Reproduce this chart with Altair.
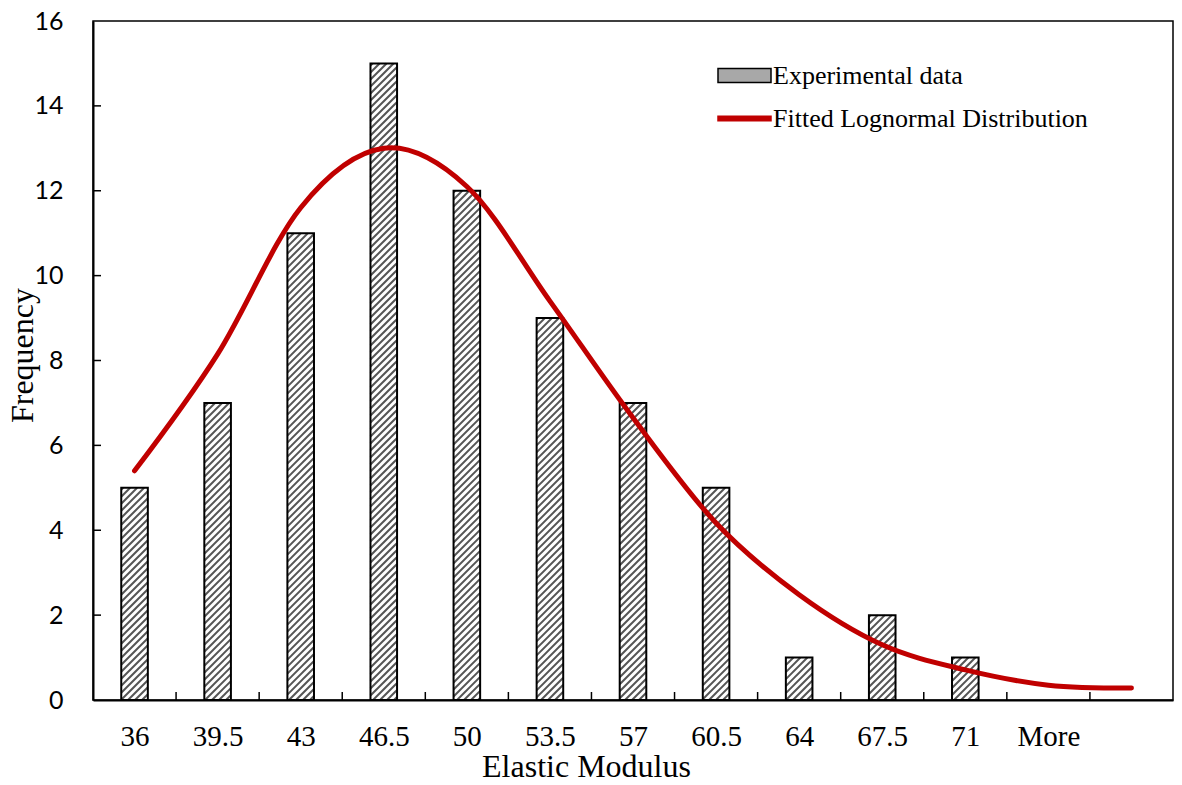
import altair as alt
import pandas as pd

# ---- data ----
categories = ["36", "39.5", "43", "46.5", "50", "53.5", "57", "60.5", "64", "67.5", "71", "More"]
frequency = [5, 7, 11, 15, 12, 9, 7, 5, 1, 2, 1, 0]
fitted = [5.4, 8.15, 11.6, 13.0, 12.1, 9.4, 6.65, 4.17, 2.48, 1.30, 0.71, 0.35, 0.28]
series = ["Experimental data", "Fitted Lognormal Distribution"]
y_ticks = [0, 2, 4, 6, 8, 10, 12, 14, 16]

# ---- layout / style ----
W, H = 1080, 679
N_SLOTS = 13
SX = W / N_SLOTS          # px per category slot
SY = H / 16               # px per frequency unit
HALF = 0.16               # half bar width (slot units)
PERIOD = 7                # hatch period (px)
TICK_PX = 8
RED = "#C00000"
SERIF = "Liberation Serif"

bars = pd.DataFrame({"idx": list(range(len(categories))), "label": categories, "count": frequency})
fit = pd.DataFrame({"idx": list(range(len(fitted))), "value": fitted})
legend_df = pd.DataFrame({"series": series})
xticks_df = pd.DataFrame({"b": list(range(1, N_SLOTS))})
yticks_df = pd.DataFrame({"v": y_ticks[1:-1]})

x_scale = alt.Scale(domain=[0, N_SLOTS], nice=False, zero=False)
y_scale = alt.Scale(domain=[0, 16], nice=False)

label_expr = "[" + ",".join("'%s'" % c for c in categories) + "][floor(datum.value)]"
x_axis = alt.Axis(
    values=[i + 0.5 for i in range(len(categories))], labelExpr=label_expr,
    ticks=False, tickSize=0, grid=False, domainColor="black", domainWidth=2,
    labelFont=SERIF, labelFontSize=29, labelColor="black", labelPadding=22,
    labelFlush=False, labelOverlap=False,
    title="Elastic Modulus", titleFont=SERIF, titleFontSize=32, titleFontWeight="normal",
    titleColor="black", titleX=493, titleY=76, titleBaseline="alphabetic", titleAlign="center",
)
y_axis = alt.Axis(
    values=y_ticks, ticks=False, tickSize=0, grid=False, domainColor="black", domainWidth=2,
    labelFont="Lato", labelFontSize=25, labelColor="black", labelPadding=30,
    labelFlush=False, labelOverlap=False,
    title="Frequency", titleFont=SERIF, titleFontSize=32, titleFontWeight="normal",
    titleColor="black", titleX=-61, titleY=334, titleAngle=270,
    titleBaseline="alphabetic", titleAlign="center",
)


def X(field):
    return alt.X(field, type="quantitative", scale=x_scale, axis=x_axis)


def Y(field):
    return alt.Y(field, type="quantitative", scale=y_scale, axis=y_axis)


bar_base = alt.Chart(bars).transform_filter("datum.count > 0").transform_calculate(
    xa="datum.idx + 0.5 - %f" % HALF,
    xb="datum.idx + 0.5 + %f" % HALF,
    zero="0",
)

bar_fill = bar_base.mark_rect(fill="white").encode(
    x=X("xa"), x2="xb", y=Y("count"), y2="zero"
)

hatch = (
    alt.Chart(bars)
    .transform_filter("datum.count > 0")
    .transform_calculate(
        P0="(datum.idx + 0.5 - %f) * %f" % (HALF, SX),
        P1="(datum.idx + 0.5 + %f) * %f" % (HALF, SX),
        QT="datum.count * %f" % SY,
    )
    .transform_calculate(
        ks="sequence(floor((datum.P0 - datum.QT) / %f), ceil(datum.P1 / %f) + 1)" % (PERIOD, PERIOD)
    )
    .transform_flatten(["ks"], as_=["k"])
    .transform_calculate(s="datum.k * %f" % PERIOD)
    .transform_calculate(
        Qa="max(0, datum.P0 - datum.s)",
        Qb="min(datum.QT, datum.P1 - datum.s)",
    )
    .transform_filter("datum.Qb - datum.Qa > 0.3")
    .transform_calculate(
        hx="(datum.Qa + datum.s) / %f" % SX,
        hx2="(datum.Qb + datum.s) / %f" % SX,
        hy="datum.Qa / %f" % SY,
        hy2="datum.Qb / %f" % SY,
    )
    .mark_rule(color="#555555", strokeWidth=2)
    .encode(x=X("hx"), x2="hx2", y=Y("hy"), y2="hy2")
)

bar_outline = bar_base.mark_rect(fill="transparent", stroke="black", strokeWidth=2).encode(
    x=X("xa"), x2="xb", y=Y("count"), y2="zero"
)

fit_line = (
    alt.Chart(fit)
    .transform_calculate(xc="datum.idx + 0.5")
    .mark_line(color=RED, strokeWidth=5, strokeCap="round", interpolate="cardinal")
    .encode(x=X("xc"), y=Y("value"))
)

x_ticks = (
    alt.Chart(xticks_df)
    .transform_calculate(z="0", t="%f" % (TICK_PX / SY))
    .mark_rule(color="black", strokeWidth=1.5)
    .encode(x=X("b"), y=Y("z"), y2="t")
)

y_ticks_layer = (
    alt.Chart(yticks_df)
    .transform_calculate(z="0", t="%f" % (TICK_PX / SX))
    .mark_rule(color="black", strokeWidth=1.5)
    .encode(x=X("z"), x2="t", y=Y("v"))
)

leg = alt.Legend(
    title=None, orient="none", legendX=624, legendY=27, padding=0,
    labelFont=SERIF, labelFontSize=26, labelColor="black", labelOffset=1, labelLimit=0,
    rowPadding=2, symbolSize=2809, symbolStrokeWidth=1.5,
)
RECT = "M-1,-0.265H1V0.265H-1Z"
THIN = "M-1,-0.085H1V0.085H-1Z"
legend_layer = (
    alt.Chart(legend_df)
    .mark_point(filled=True, opacity=1, size=2809, clip=True)
    .encode(
        y=alt.YDatum(-20, scale=y_scale, axis=y_axis),
        shape=alt.Shape("series:N", scale=alt.Scale(domain=series, range=[RECT, THIN]), legend=leg),
        fill=alt.Fill("series:N", scale=alt.Scale(domain=series, range=["#a8a8a8", RED]), legend=leg),
        stroke=alt.Stroke("series:N", scale=alt.Scale(domain=series, range=["black", RED]), legend=leg),
    )
)

chart = (
    alt.layer(bar_fill, hatch, bar_outline, fit_line, x_ticks, y_ticks_layer, legend_layer)
    .properties(
        width=W, height=H, autosize="none",
        padding={"left": 85, "top": 13, "right": 1, "bottom": 77},
        background="white",
    )
    .configure_view(stroke="black", strokeWidth=1.5)
)

chart.save("out.html", embed_options={"renderer": "svg", "actions": False})
